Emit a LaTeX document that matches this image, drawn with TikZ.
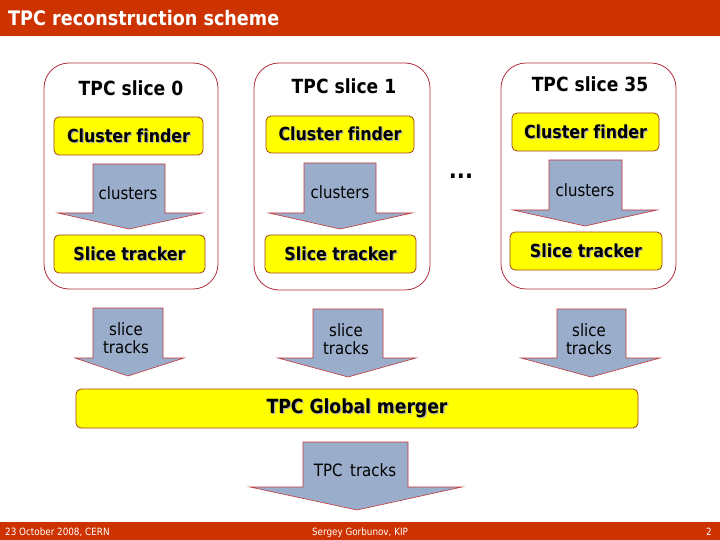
\documentclass[tikz,border=0pt]{standalone}
\usepackage{fontspec}
\setmainfont[FakeStretch=0.88, Ligatures=NoCommon]{DejaVu Sans}
\definecolor{hdr}{HTML}{CC3300}
\definecolor{arrfill}{HTML}{9AAECB}
\definecolor{arrline}{HTML}{C0393B}
\definecolor{yfill}{HTML}{FFFF00}
\definecolor{yline}{HTML}{A0441A}
\definecolor{sline}{HTML}{B03040}
\newcommand\shtx[1]{\makebox[0pt][l]{\hspace{1.2pt}\raisebox{-1.2pt}{\textcolor{black!30}{#1}}}#1}
\begin{document}
\begin{tikzpicture}[x=1pt,y=-1pt,
  slicebox/.style={draw=sline, line width=0.8pt, rounded corners=25pt, fill=white, inner sep=0pt},
  ybox/.style={draw=yline, line width=0.8pt, fill=yfill, rounded corners=5pt, inner sep=0pt, font=\fontsize{18}{20}\selectfont\bfseries},
  blockarrow/.style={draw=arrline, line width=0.6pt, fill=arrfill, line join=miter},
  lbl/.style={font=\fontsize{17}{18}\selectfont, inner sep=0pt, align=center},
  ttl/.style={font=\fontsize{19.5}{22}\selectfont\bfseries, inner sep=0pt},
  foot/.style={font=\fontsize{10}{12}\selectfont, text=white, inner sep=0pt}]
\useasboundingbox (0,0) rectangle (720,540);
% header and footer
\fill[hdr] (0,0) rectangle (720,36);
\node[anchor=west, inner sep=0pt, text=white, font=\fontsize{20}{22}\selectfont\bfseries] (title) at (8,18) {TPC reconstruction scheme};
\fill[hdr] (0,522) rectangle (720,540);
\node[foot, anchor=base west] (date) at (5,535.5) {23 October 2008, CERN};
\node[foot, anchor=base] (author) at (360,535.5) {Sergey Gorbunov, KIP};
\node[foot, anchor=base] (page) at (709,535.5) {2};
% slice boxes
\node[slicebox, minimum width=174pt, minimum height=226pt] (s0) at (131,176) {};
\node[slicebox, minimum width=176pt, minimum height=227pt] (s1) at (342,176.5) {};
\node[slicebox, minimum width=175pt, minimum height=226pt] (s35) at (588.5,176) {};
% cluster arrows
\draw[blockarrow] (93,164) -- (165,164) -- (165,213) -- (202,213) -- (129,229) -- (58,213) -- (93,213) -- cycle;
\draw[blockarrow] (304,163) -- (376,163) -- (376,213) -- (412,213) -- (340,229) -- (269,213) -- (304,213) -- cycle;
\draw[blockarrow] (549,160) -- (622,160) -- (622,210) -- (657,210) -- (585,226) -- (513,210) -- (549,210) -- cycle;
% slice track arrows
\draw[blockarrow] (93,308) -- (163,308) -- (163,358) -- (184,358) -- (128,376) -- (75,358) -- (93,358) -- cycle;
\draw[blockarrow] (313,309) -- (383,309) -- (383,358) -- (416,358) -- (348,377) -- (278,358) -- (313,358) -- cycle;
\draw[blockarrow] (557,309) -- (626,309) -- (626,358) -- (660,358) -- (591,377) -- (521,358) -- (557,358) -- cycle;
% TPC tracks arrow
\draw[blockarrow] (303,442) -- (408,442) -- (408,487) -- (462,487) -- (357,510) -- (250,487) -- (303,487) -- cycle;
% yellow boxes
\node[ybox, minimum width=149pt, minimum height=38pt] (cf0) at (128.5,136) {\shtx{Cluster finder}};
\node[ybox, minimum width=148pt, minimum height=37pt] (cf1) at (340,134.5) {\shtx{Cluster finder}};
\node[ybox, minimum width=147pt, minimum height=38pt] (cf35) at (585.5,132) {\shtx{Cluster finder}};
\node[ybox, minimum width=151pt, minimum height=38pt] (st0) at (129.5,254) {\shtx{Slice tracker}};
\node[ybox, minimum width=151pt, minimum height=38pt] (st1) at (340.5,254) {\shtx{Slice tracker}};
\node[ybox, minimum width=152pt, minimum height=38pt] (st35) at (586,251) {\shtx{Slice tracker}};
\node[ybox, minimum width=562pt, minimum height=39pt, font=\fontsize{19.5}{22}\selectfont\bfseries] (gm) at (357,408.5) {\raisebox{-2pt}{\shtx{TPC Global merger}}};
% titles
\node[ttl] (t0) at (131,88) {TPC slice 0};
\node[ttl] (t1) at (344,86) {TPC slice 1};
\node[ttl] (t35) at (590,84) {TPC slice 35};
\node[ttl, font=\fontsize{24}{26}\selectfont\bfseries] (dots) at (461,176) {...};
% arrow labels
\node[lbl] (c0) at (128,193) {clusters};
\node[lbl] (c1) at (340,192) {clusters};
\node[lbl] (c35) at (585,190) {clusters};
\node[lbl] (tr0) at (126,338) {slice\\tracks};
\node[lbl] (tr1) at (346,339) {slice\\tracks};
\node[lbl] (tr35) at (589,339) {slice\\tracks};
\node[lbl] (tpct) at (355,470) {TPC\hspace{0.45em}tracks};
\end{tikzpicture}
\end{document}
